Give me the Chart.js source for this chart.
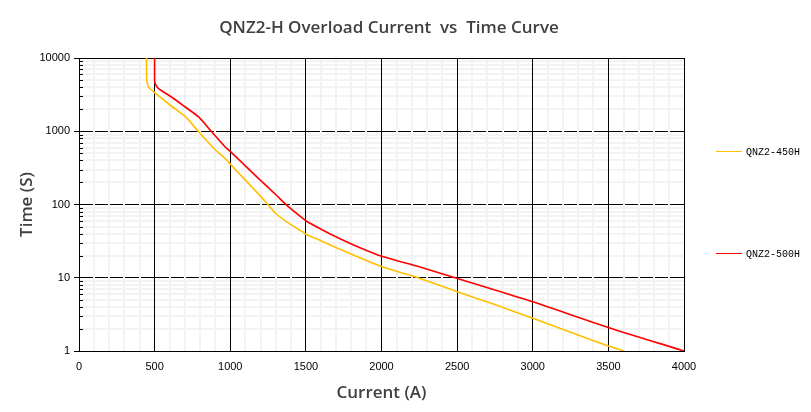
<!DOCTYPE html>
<html lang="en">
<head>
    <meta charset="UTF-8">
    <title>QNZ2-H Overload Current vs Time Curve</title>
    <script src="https://cdn.jsdelivr.net/npm/chart.js"></script>
    <style>
        body { margin: 0; background: #fff; }
        .chart-box { width: 811px; height: 412px; position: relative; }
    </style>
</head>
<body>
    <div class="chart-box">
        <canvas id="curveChart"></canvas>
    </div>
    <script>
        // Series (current in A, time in s)
        const seriesNames = ['QNZ2-450H', 'QNZ2-500H'];
        const current450 = [447, 447, 452, 460, 498, 600, 690, 725, 800, 900, 965, 1000, 1100, 1200, 1252, 1300, 1373, 1450, 1505, 1600, 1726, 2001, 2254, 2502, 2750, 3000, 3250, 3500, 3600];
        const time450    = [10000, 5200, 4500, 4000, 3400, 2300, 1667, 1420, 937, 560, 428, 357, 215, 130, 98, 76, 58, 46, 39, 32, 24.5, 14.2, 9.8, 6.45, 4.3, 2.8, 1.8, 1.17, 1];
        const current500 = [500, 500, 505, 524, 624, 700, 789, 877, 965, 1000, 1100, 1200, 1300, 1373, 1430, 1505, 1600, 1726, 1850, 2001, 2254, 2502, 2750, 3000, 3500, 4000];
        const time500    = [10000, 4900, 4400, 3860, 2820, 2160, 1580, 986, 615, 530, 336, 214, 137, 98, 78, 59, 46, 34, 26, 19.6, 14, 9.8, 6.8, 4.7, 2.1, 1];
        const timeDecades = [1, 10, 100, 1000, 10000];
        const currentMax = 4000;
        const currentLabelStep = 500;

        const colors = ['#ffc000', '#ff0000'];
        const minorGrid = '#f3f3f3';
        const isDecade = v => timeDecades.includes(v);

        // every 1..9 step of each decade, for the minor grid
        const timeTicks = [];
        timeDecades.forEach((d, i) => {
            if (i === timeDecades.length - 1) { timeTicks.push(d); return; }
            for (let k = 1; k < 10; k++) timeTicks.push(d * k);
        });

        const toPoints = (xs, ys) => xs.map((x, i) => ({ x: x, y: ys[i] }));

        // top frame line, drawn before the curves
        const framePlugin = {
            id: 'frame',
            beforeDatasetsDraw(chart) {
                const ctx = chart.ctx;
                const area = chart.chartArea;
                const top = Math.round(area.top) + 0.5;
                ctx.save();
                ctx.strokeStyle = '#000';
                ctx.lineWidth = 1;
                ctx.beginPath();
                ctx.moveTo(area.left, top);
                ctx.lineTo(area.right, top);
                ctx.stroke();
                ctx.restore();
            }
        };

        // title, small inner minor ticks and the right-hand legend
        const decorPlugin = {
            id: 'decor',
            afterDraw(chart) {
                const ctx = chart.ctx;
                const y = chart.scales.y;
                const area = chart.chartArea;
                ctx.save();
                ctx.strokeStyle = '#000';
                ctx.lineWidth = 1;
                timeTicks.forEach(v => {
                    if (isDecade(v)) return;
                    const py = Math.round(y.getPixelForValue(v)) + 0.5;
                    ctx.beginPath();
                    ctx.moveTo(area.left, py);
                    ctx.lineTo(area.left + 4, py);
                    ctx.stroke();
                });

                ctx.fillStyle = '#404040';
                ctx.font = '600 17px "Open Sans", sans-serif';
                ctx.textAlign = 'center';
                ctx.textBaseline = 'middle';
                ctx.fillText('QNZ2-H Overload Current  vs  Time Curve', 389, 28);

                const legendY = [151, 253];
                ctx.font = '10px "Liberation Mono", monospace';
                ctx.textAlign = 'left';
                seriesNames.forEach((name, i) => {
                    ctx.strokeStyle = colors[i];
                    ctx.beginPath();
                    ctx.moveTo(716, legendY[i] + 0.5);
                    ctx.lineTo(742, legendY[i] + 0.5);
                    ctx.stroke();
                    ctx.fillStyle = '#000';
                    ctx.fillText(name, 746, legendY[i] + 1);
                });
                ctx.restore();
            }
        };

        new Chart(document.getElementById('curveChart'), {
            type: 'line',
            data: {
                datasets: [
                    {
                        label: seriesNames[0],
                        data: toPoints(current450, time450),
                        borderColor: colors[0],
                        borderWidth: 1.6,
                        pointRadius: 0,
                        tension: 0.25
                    },
                    {
                        label: seriesNames[1],
                        data: toPoints(current500, time500),
                        borderColor: colors[1],
                        borderWidth: 1.6,
                        pointRadius: 0,
                        tension: 0.25
                    }
                ]
            },
            options: {
                responsive: true,
                maintainAspectRatio: false,
                animation: false,
                layout: { padding: { top: 58, right: 127, left: 0, bottom: 0 } },
                plugins: {
                    legend: { display: false },
                    tooltip: { enabled: false }
                },
                scales: {
                    x: {
                        type: 'linear',
                        min: 0,
                        max: currentMax,
                        afterFit: scale => { scale.height = 61; },
                        ticks: {
                            stepSize: 100,
                            autoSkip: false,
                            maxRotation: 0,
                            padding: 9,
                            color: '#000',
                            font: { family: 'Liberation Sans', size: 11 },
                            callback: v => (v % currentLabelStep === 0 ? String(v) : '')
                        },
                        grid: {
                            z: 0,
                            drawTicks: false,
                            color: c => (c.tick && c.tick.value % currentLabelStep === 0 ? '#000' : minorGrid),
                            lineWidth: c => (c.tick && c.tick.value % currentLabelStep === 0 ? 1 : 2)
                        },
                        border: { color: '#000', width: 1 },
                        title: {
                            display: true,
                            text: 'Current (A)',
                            color: '#404040',
                            font: { family: 'Open Sans', size: 17, weight: '600' },
                            padding: { top: 0, bottom: 9 }
                        }
                    },
                    y: {
                        type: 'logarithmic',
                        min: 1,
                        max: 10000,
                        afterFit: scale => { scale.width = 79; },
                        afterBuildTicks: scale => {
                            scale.ticks = timeTicks.map(v => ({ value: v, major: isDecade(v) }));
                        },
                        ticks: {
                            autoSkip: false,
                            padding: 4,
                            color: '#000',
                            font: { family: 'Liberation Sans', size: 11 },
                            callback: v => (isDecade(v) ? String(v) : '')
                        },
                        grid: {
                            z: -1,
                            tickLength: 5,
                            color: c => (c.tick && isDecade(c.tick.value) ? '#000' : minorGrid),
                            lineWidth: c => (c.tick && isDecade(c.tick.value) ? 1 : 2),
                            tickColor: c => (c.tick && isDecade(c.tick.value) ? '#000' : 'rgba(0,0,0,0)'),
                            tickWidth: 1
                        },
                        border: { color: '#000', width: 1 },
                        title: {
                            display: true,
                            text: 'Time (S)',
                            color: '#404040',
                            font: { family: 'Open Sans', size: 17, weight: '600' },
                            padding: { top: 17, bottom: 0 }
                        }
                    }
                }
            },
            plugins: [framePlugin, decorPlugin]
        });
    </script>
</body>
</html>
